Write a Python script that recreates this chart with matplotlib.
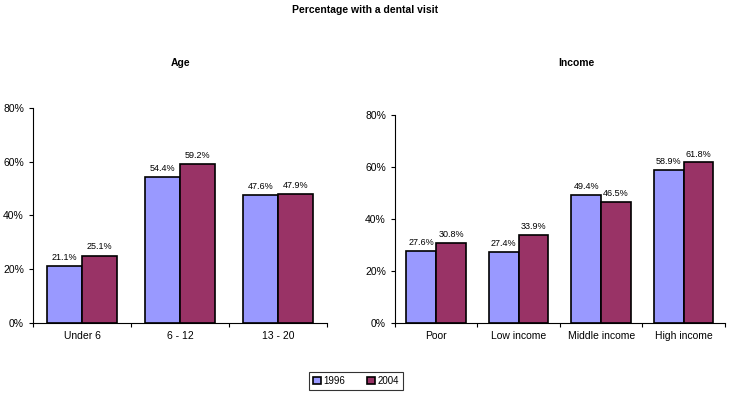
import matplotlib.pyplot as plt
import numpy as np

plt.rcParams['font.family'] = ['Liberation Sans', 'DejaVu Sans']

age_cats = ['Under 6', '6 - 12', '13 - 20']
age_1996 = [21.1, 54.4, 47.6]
age_2004 = [25.1, 59.2, 47.9]

inc_cats = ['Poor', 'Low income', 'Middle income', 'High income']
inc_1996 = [27.6, 27.4, 49.4, 58.9]
inc_2004 = [30.8, 33.9, 46.5, 61.8]

years = ['1996', '2004']
c1996 = '#9999FF'
c2004 = '#993366'

fig = plt.figure(figsize=(7.3, 3.99), dpi=100)
ax1 = fig.add_axes([0.0452, 0.1905, 0.403, 0.539])
ax2 = fig.add_axes([0.541, 0.1905, 0.452, 0.521])

w = 0.36


def panel(ax, cats, v1, v2):
    x = np.arange(len(cats))
    b1 = ax.bar(x - w / 2, v1, w, color=c1996, edgecolor='black', linewidth=1.2, label=years[0])
    b2 = ax.bar(x + w / 2, v2, w, color=c2004, edgecolor='black', linewidth=1.2, label=years[1])
    for bars, vals in ((b1, v1), (b2, v2)):
        for b, v in zip(bars, vals):
            ax.text(b.get_x() + b.get_width() / 2, v + 1.5, '%.1f%%' % v,
                    ha='center', va='bottom', fontsize=6.5)
    ax.set_xlim(-0.5, len(cats) - 0.5)
    ax.set_ylim(0, 80)
    ax.set_yticks([0, 20, 40, 60, 80])
    ax.set_yticklabels(['%d%%' % t for t in [0, 20, 40, 60, 80]], fontsize=7.5)
    ax.set_xticks(np.arange(len(cats) + 1) - 0.5)
    ax.set_xticklabels([])
    ax.set_xticks(x, minor=True)
    ax.set_xticklabels(cats, minor=True, fontsize=7.5)
    ax.tick_params(axis='x', which='minor', length=0, pad=6)
    ax.tick_params(axis='both', which='major', length=3, direction='out', color='black')
    ax.spines['top'].set_visible(False)
    ax.spines['right'].set_visible(False)
    return b1, b2


h1, h2 = panel(ax1, age_cats, age_1996, age_2004)
panel(ax2, inc_cats, inc_1996, inc_2004)

fig.text(0.5, 0.975, 'Percentage with a dental visit', ha='center', va='center',
         fontsize=7.5, fontweight='bold')
fig.text(181 / 730, 1 - 63 / 399, 'Age', ha='center', va='center',
         fontsize=7.5, fontweight='bold')
fig.text(576 / 730, 1 - 63 / 399, 'Income', ha='center', va='center',
         fontsize=7.5, fontweight='bold')

leg = fig.legend([h1, h2], years, loc='center', bbox_to_anchor=(356 / 730, 0.045), ncol=2,
                 fontsize=7, frameon=True, fancybox=False, edgecolor='black',
                 handlelength=0.8, handleheight=0.8, handletextpad=0.3,
                 columnspacing=2.2, borderpad=0.4)
leg.get_frame().set_linewidth(0.8)

fig.savefig('out.png', dpi=100)
